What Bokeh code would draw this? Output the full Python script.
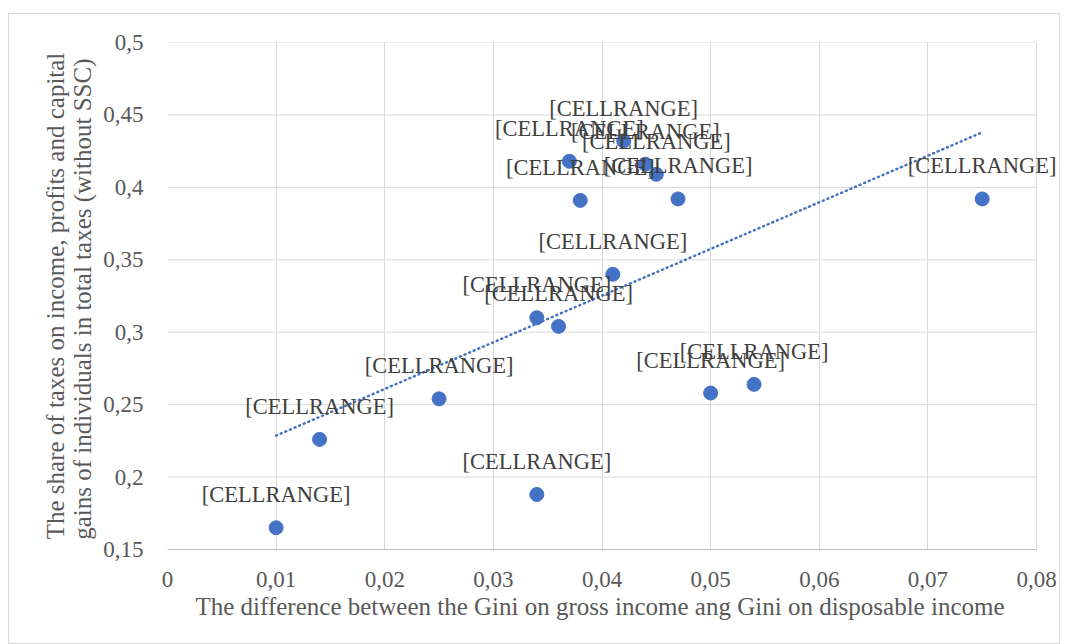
import numpy as np
from bokeh.plotting import figure
from bokeh.models import ColumnDataSource, FixedTicker, CustomJSTickFormatter, Range1d, Label, Title
from bokeh.embed import file_html
from bokeh.resources import INLINE

# ---- data ----
gini_diff = [0.010, 0.014, 0.025, 0.034, 0.034, 0.036, 0.041, 0.038, 0.037,
             0.042, 0.044, 0.045, 0.047, 0.050, 0.054, 0.075]
tax_share = [0.165, 0.226, 0.254, 0.188, 0.310, 0.304, 0.340, 0.391, 0.418,
             0.432, 0.416, 0.409, 0.392, 0.258, 0.264, 0.392]
labels = ["[CELLRANGE]"] * len(gini_diff)
x_ticks = [0, 0.01, 0.02, 0.03, 0.04, 0.05, 0.06, 0.07, 0.08]
y_ticks = [0.15, 0.2, 0.25, 0.3, 0.35, 0.4, 0.45, 0.5]
x_title = "The difference between the Gini  on gross income ang Gini  on disposable income"
y_title = ("The share of taxes on income, profits and capital\n"
           "gains of individuals  in total taxes (without SSC)")

SERIF = "Liberation Serif"
BLUE = "#4472C4"
GRID = "#d9d9d9"

# the plotting frame runs a little past the last x tick so the right-most data label
# is not clipped; the visible grid/axis stops at the last tick as in the original
x_end = x_ticks[-1] * 894 / 869

p = figure(width=1052, height=631, output_backend="svg", toolbar_location=None,
           x_range=Range1d(x_ticks[0], x_end), y_range=Range1d(y_ticks[0], y_ticks[-1]),
           min_border_left=158, min_border_right=0, min_border_top=28, min_border_bottom=96)
p.margin = (13, 0, 0, 8)
p.styles = {"border": "1px solid #d9d9d9", "box-sizing": "border-box"}
p.outline_line_color = None
p.background_fill_color = None
p.border_fill_color = None

fmt = CustomJSTickFormatter(code="""
var s = tick.toFixed(2).replace(/0+$/, '').replace(/\\.$/, '');
return s.replace('.', ',');
""")

for ax, ticks in ((p.xaxis[0], x_ticks), (p.yaxis[0], y_ticks)):
    ax.ticker = FixedTicker(ticks=ticks)
    ax.formatter = fmt
    ax.major_tick_line_color = None
    ax.minor_tick_line_color = None
    ax.major_label_text_font = SERIF
    ax.major_label_text_font_size = "23px"
    ax.major_label_text_color = "#595959"
    ax.axis_label_text_font = SERIF
    ax.axis_label_text_font_size = "25px"
    ax.axis_label_text_font_style = "normal"
    ax.axis_label_text_color = "#595959"
    ax.axis_label_text_line_height = 1.0

p.xaxis.bounds = (x_ticks[0], x_ticks[-1])
p.xaxis.axis_line_color = "#bfbfbf"
p.yaxis.axis_line_color = None
p.xaxis.major_label_standoff = 16
p.yaxis.major_label_standoff = 18
p.yaxis.axis_label = y_title
p.yaxis.axis_label_standoff = 4

# x-axis title centred under the visible plot area (not the extended frame)
p.add_layout(Title(text=x_title, align="left", offset=28, standoff=2,
                   text_font=SERIF, text_font_size="25px", text_font_style="normal",
                   text_color="#595959"), "below")

p.xgrid.ticker = FixedTicker(ticks=x_ticks)
p.xgrid.grid_line_color = GRID
p.ygrid.visible = False
# horizontal gridlines limited to the tick span
p.segment(x0=[x_ticks[0]] * len(y_ticks), x1=[x_ticks[-1]] * len(y_ticks),
          y0=y_ticks, y1=y_ticks, line_color=GRID, line_width=1)

src = ColumnDataSource(dict(x=gini_diff, y=tax_share, t=labels))

# linear trendline
slope, icpt = np.polyfit(gini_diff, tax_share, 1)
tx = [min(gini_diff), max(gini_diff)]
ty = [slope * v + icpt for v in tx]
p.line(tx, ty, line_color=BLUE, line_width=2.5, line_dash="1 4", line_cap="round")

p.scatter("x", "y", source=src, size=14, fill_color=BLUE, line_color=BLUE)

for xv, yv, t in zip(gini_diff, tax_share, labels):
    p.add_layout(Label(x=xv, y=yv, text=t, y_offset=33, text_align="center",
                       text_baseline="middle", text_font=SERIF, text_font_size="22.5px",
                       text_color="#404040"))

open("out.html", "w").write(file_html(p, INLINE))
